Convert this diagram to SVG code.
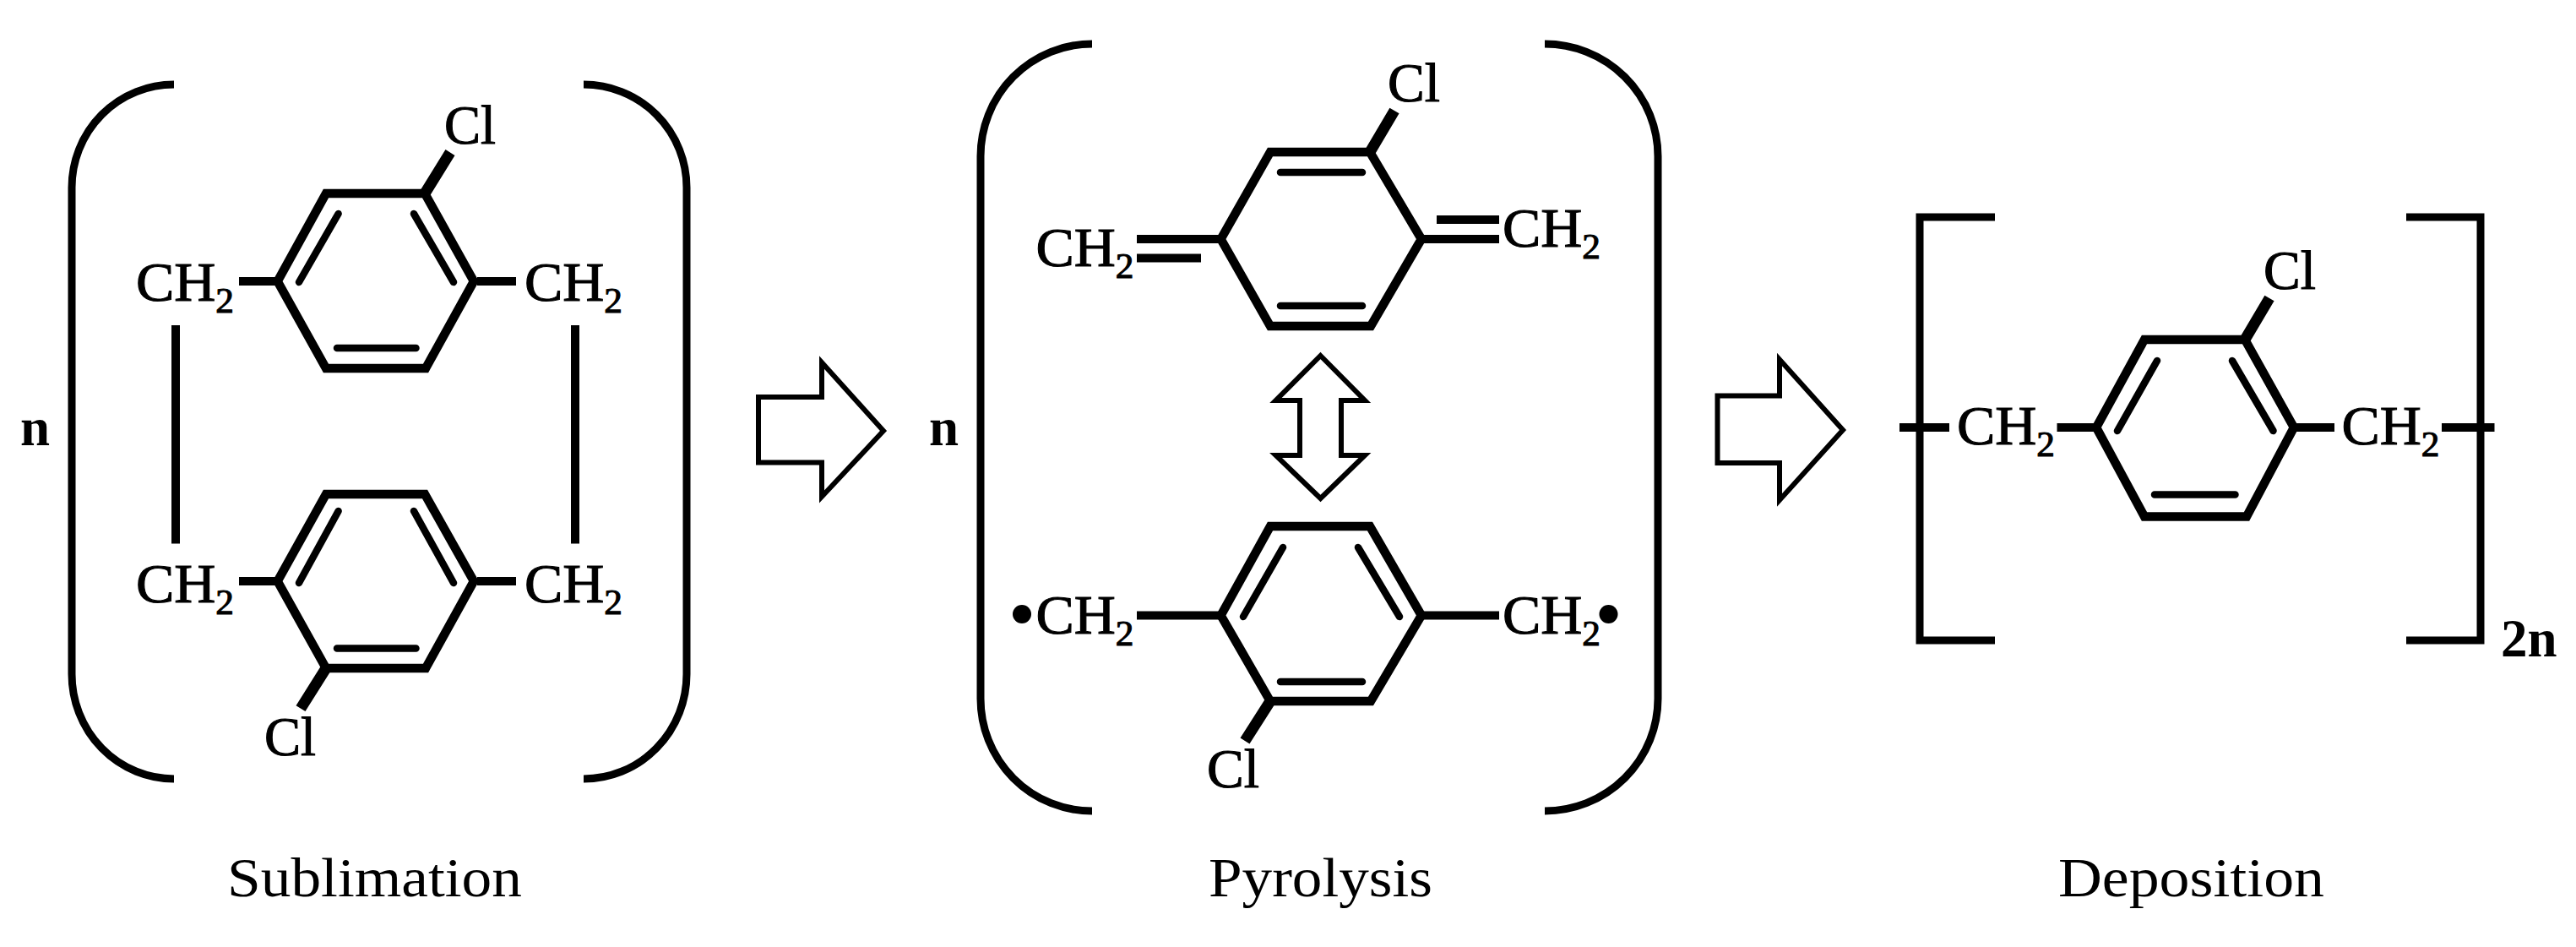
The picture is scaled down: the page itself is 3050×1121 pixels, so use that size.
<svg xmlns="http://www.w3.org/2000/svg" width="3050" height="1121" viewBox="0 0 3050 1121">
<style>
text{font-family:"Liberation Serif","Times New Roman",serif;fill:#000}
.t{font-size:66px;stroke:#000;stroke-width:1.1px}
.s{font-size:42px}
.b{font-size:63px;font-weight:700}
.c{font-size:66px}
.br{fill:none;stroke:#000;stroke-width:9}
.ring{fill:none;stroke:#000;stroke-width:10.500;stroke-linejoin:miter}
.in{fill:none;stroke:#000;stroke-width:8.500;stroke-linecap:round}
.bond{fill:none;stroke:#000;stroke-width:10}
.clb{fill:none;stroke:#000;stroke-width:13}
.ar{fill:#fff;stroke:#000;stroke-width:6;stroke-linejoin:miter}
</style>
<rect width="3050" height="1121" fill="#fff"/>
<defs>
<g id="chl"><text class="t" textLength="116" lengthAdjust="spacingAndGlyphs">CH<tspan class="s" dy="14">2</tspan></text></g>
</defs>
<g id="connectors">
<path class="ar" d="M898 470H973V429L1046 510L973 588V547.500H898Z"/>
<path class="ar" d="M2033.500 468.500H2107V425.500L2182 509L2107 592V548H2033.500Z"/>
<path class="ar" d="M1563.500 421L1616 474H1588V539H1616L1563.500 590L1510.500 539H1539V474H1510.500Z"/>
<path class="bond" d="M283 333H329M565 333H611M283 688H329M565 688H611M208 385V643.500M681 385V643.500"/>
<path class="bond" d="M1346 283H1445M1346 305.500H1422M1683 283H1775M1701 260H1775M1346 728.500H1445M1683 728.500H1775"/>
<path class="bond" d="M2249 506H2308M2435.500 506H2482M2716 506H2764M2891 506H2953.500"/>
<path class="clb" d="M503 229L533 180.500M386 791L356 838.600M1622 180L1651 131M1504 830L1474 877M2658 402L2687 353"/>
</g>
<g id="sublimation">
<path class="br" d="M206 100A121 122 0 0 0 85 222V798A121 124 0 0 0 206 922"/>
<path class="br" d="M691 100A122 122 0 0 1 813 222V798A122 124 0 0 1 691 922"/>
<polygon class="ring" points="328.600,333 386,229 503,229 561,333 504,436 386,436"/>
<path class="in" d="M400.600 253L354 334M490 253L537 334M399 412H492.500"/>
<polygon class="ring" points="328.600,688 386,585 503,585 561,688 504,791 386,791"/>
<path class="in" d="M400.600 605L354 690M490 605L537 690M399 767.500H492.500"/>
<text class="c t" x="526" y="170" textLength="61" lengthAdjust="spacingAndGlyphs">Cl</text>
<text class="c t" x="313" y="894" textLength="61" lengthAdjust="spacingAndGlyphs">Cl</text>
<use href="#chl" x="161" y="356"/>
<use href="#chl" x="621" y="356"/>
<use href="#chl" x="161" y="713"/>
<use href="#chl" x="621" y="713"/>
<text class="b" x="24" y="527">n</text>
<text class="c" x="269" y="1061" textLength="349" lengthAdjust="spacingAndGlyphs">Sublimation</text>
</g>
<g id="pyrolysis">
<path class="br" d="M1293 52A132 133 0 0 0 1161 185V827A132 133 0 0 0 1293 960"/>
<path class="br" d="M1829 52A134 133 0 0 1 1963 185V827A134 133 0 0 1 1829 960"/>
<polygon class="ring" points="1445.500,283 1504,180 1622,180 1683,283 1623,386 1504,386"/>
<path class="in" d="M1516 204H1613M1516 362H1613"/>
<polygon class="ring" points="1445.500,728.500 1504,623 1622,623 1683,728.500 1623,830 1504,830"/>
<path class="in" d="M1519 648L1472 730M1608 648L1657 730M1516 807H1613"/>
<text class="c t" x="1643" y="120" textLength="62" lengthAdjust="spacingAndGlyphs">Cl</text>
<text class="c t" x="1429" y="932" textLength="62" lengthAdjust="spacingAndGlyphs">Cl</text>
<use href="#chl" x="1226.500" y="315"/>
<use href="#chl" x="1779" y="292"/>
<use href="#chl" x="1226.500" y="750"/>
<use href="#chl" x="1779" y="750"/>
<circle cx="1210" cy="727" r="11"/>
<circle cx="1904.500" cy="727" r="11"/>
<text class="b" x="1100" y="527">n</text>
<text class="c" x="1431" y="1061" textLength="265" lengthAdjust="spacingAndGlyphs">Pyrolysis</text>
</g>
<g id="deposition">
<path class="br" d="M2362 257H2273V758H2362"/>
<path class="br" d="M2849 257H2937V758H2849"/>
<polygon class="ring" points="2482,506 2539,402 2658,402 2716,506 2660,611.500 2539,611.500"/>
<path class="in" d="M2554 427L2507 510M2643 427L2691.500 510M2551 585.600H2646.500"/>
<text class="c t" x="2680" y="342" textLength="62" lengthAdjust="spacingAndGlyphs">Cl</text>
<use href="#chl" x="2317" y="526"/>
<use href="#chl" x="2772.500" y="526"/>
<text class="b" x="2961" y="777">2n</text>
<text class="c" x="2437" y="1061" textLength="315" lengthAdjust="spacingAndGlyphs">Deposition</text>
</g>
</svg>
